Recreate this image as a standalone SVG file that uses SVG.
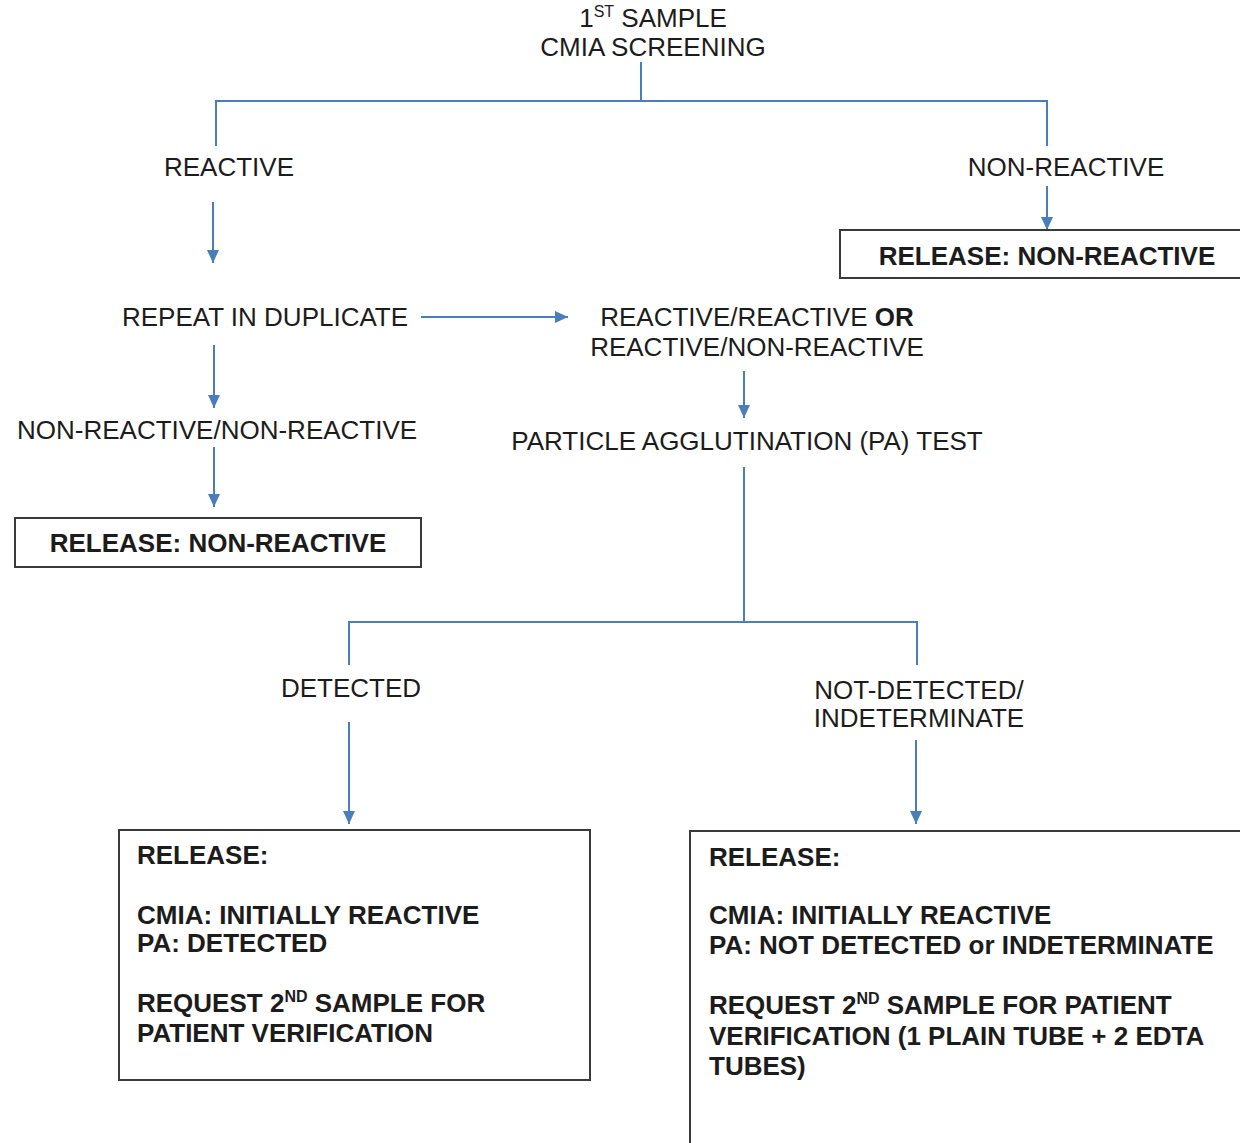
<svg xmlns="http://www.w3.org/2000/svg" width="1240" height="1143" viewBox="0 0 1240 1143">
  <style>
    .t { font-family: "Liberation Sans", Arial, sans-serif; font-size: 26px; fill: #1c1c1c; }
    .b { font-weight: bold; }
    .c { text-anchor: middle; }
    .sup { font-size: 16px; }
    .ln { stroke: #4a7ebb; stroke-width: 2; fill: none; }
    .ar { stroke: #4a7ebb; stroke-width: 2; fill: none; marker-end: url(#head); }
    .box { fill: #ffffff; stroke: #3a3a3a; stroke-width: 2; }
  </style>
  <defs>
    <marker id="head" markerUnits="userSpaceOnUse" markerWidth="14" markerHeight="14" viewBox="0 0 14 14" refX="13" refY="7" orient="auto">
      <path d="M0,1 L13,7 L0,13 Z" fill="#4a7ebb"/>
    </marker>
  </defs>
  <rect width="1240" height="1143" fill="#ffffff"/>

  <!-- connectors -->
  <g id="connectors">
    <path class="ln" d="M641,62 V101 M216,146 V101 H1047 V146"/>
    <path class="ar" d="M213,202 V263"/>
    <path class="ar" d="M1047,186 V230"/>
    <path class="ar" d="M421,317 H568"/>
    <path class="ar" d="M744,371 V418"/>
    <path class="ar" d="M214,345 V408"/>
    <path class="ar" d="M214,447 V507"/>
    <path class="ln" d="M744,467 V622 M349,665 V622 H917 V665"/>
    <path class="ar" d="M349,722 V824"/>
    <path class="ar" d="M916,740 V824"/>
  </g>

  <!-- nodes -->
  <g id="screening">
    <text class="t c" x="653" y="27">1<tspan class="sup" dy="-10">ST</tspan><tspan dy="10"> SAMPLE</tspan></text>
    <text class="t c" x="653" y="56">CMIA SCREENING</text>
  </g>
  <g id="reactive">
    <text class="t c" x="229" y="176">REACTIVE</text>
  </g>
  <g id="non-reactive">
    <text class="t c" x="1066" y="176">NON-REACTIVE</text>
  </g>
  <g id="release-nr-top">
    <rect class="box" x="840" y="230" width="410" height="48"/>
    <text class="t b c" x="1047" y="265">RELEASE: NON-REACTIVE</text>
  </g>
  <g id="repeat">
    <text class="t" x="122" y="326">REPEAT IN DUPLICATE</text>
  </g>
  <g id="rr-or-rnr">
    <text class="t c" x="757" y="326">REACTIVE/REACTIVE <tspan class="b">OR</tspan></text>
    <text class="t c" x="757" y="356">REACTIVE/NON-REACTIVE</text>
  </g>
  <g id="nr-nr">
    <text class="t" x="17" y="439">NON-REACTIVE/NON-REACTIVE</text>
  </g>
  <g id="release-nr-left">
    <rect class="box" x="15" y="518" width="406" height="49"/>
    <text class="t b c" x="218" y="552">RELEASE: NON-REACTIVE</text>
  </g>
  <g id="pa-test">
    <text class="t c" x="747" y="450">PARTICLE AGGLUTINATION (PA) TEST</text>
  </g>
  <g id="detected">
    <text class="t c" x="351" y="697">DETECTED</text>
  </g>
  <g id="not-detected">
    <text class="t c" x="919" y="699">NOT-DETECTED/</text>
    <text class="t c" x="919" y="727">INDETERMINATE</text>
  </g>
  <g id="release-detected">
    <rect class="box" x="119" y="830" width="471" height="250"/>
    <text class="t b" x="137" y="864">RELEASE:</text>
    <text class="t b" x="137" y="924">CMIA: INITIALLY REACTIVE</text>
    <text class="t b" x="137" y="952">PA: DETECTED</text>
    <text class="t b" x="137" y="1012">REQUEST 2<tspan class="sup" dy="-10">ND</tspan><tspan dy="10"> SAMPLE FOR</tspan></text>
    <text class="t b" x="137" y="1042">PATIENT VERIFICATION</text>
  </g>
  <g id="release-not-detected">
    <rect class="box" x="690" y="831" width="560" height="330"/>
    <text class="t b" x="709" y="866">RELEASE:</text>
    <text class="t b" x="709" y="924">CMIA: INITIALLY REACTIVE</text>
    <text class="t b" x="709" y="954">PA: NOT DETECTED or INDETERMINATE</text>
    <text class="t b" x="709" y="1014">REQUEST 2<tspan class="sup" dy="-10">ND</tspan><tspan dy="10"> SAMPLE FOR PATIENT</tspan></text>
    <text class="t b" x="709" y="1045">VERIFICATION (1 PLAIN TUBE + 2 EDTA</text>
    <text class="t b" x="709" y="1075">TUBES)</text>
  </g>
</svg>
